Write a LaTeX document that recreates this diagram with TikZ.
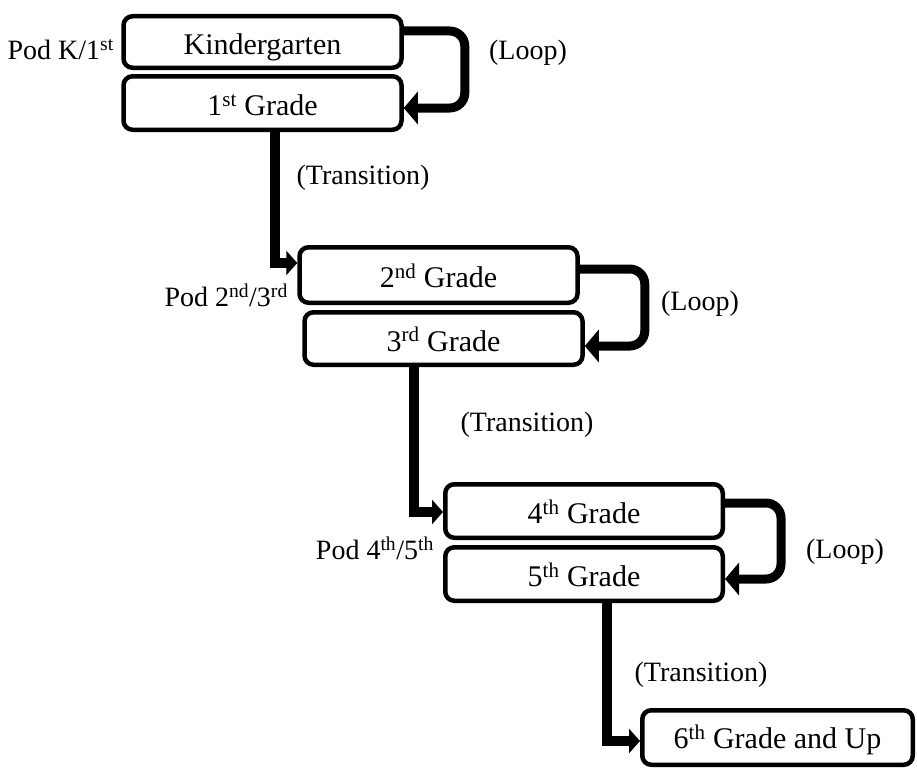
\documentclass[tikz,border=0pt]{standalone}
\usepackage{fontspec}
\setmainfont{Liberation Serif}
\usetikzlibrary{arrows.meta}
\begin{document}
\begin{tikzpicture}[x=1pt,y=-1pt,
  gradebox/.style={draw, line width=4.5pt, rounded corners=9pt, fill=white,
    minimum width=278pt, minimum height=53pt, inner sep=0pt,
    text height=25pt, text depth=0pt,
    font=\fontsize{30}{34}\selectfont},
  lbl/.style={font=\fontsize{28}{32}\selectfont, inner sep=0pt},
  loopline/.style={line width=9pt, rounded corners=15pt,
    -{Triangle[length=14pt,width=32pt]}},
  transline/.style={line width=10.5pt,
    -{Triangle[length=11pt,width=24pt]}}]
\useasboundingbox (0,0) rectangle (917,768);

% boxes
\node[gradebox, minimum height=51.5pt] (K) at (262.5,42) {Kindergarten};
\node[gradebox, minimum height=53.5pt] (G1) at (262.5,103) {1\textsuperscript{st} Grade};
\node[gradebox, minimum height=55.5pt] (G2) at (438.5,275) {2\textsuperscript{nd} Grade};
\node[gradebox, minimum height=52.5pt] (G3) at (443.5,338.5) {3\textsuperscript{rd} Grade};
\node[gradebox, minimum width=277.5pt, minimum height=53.5pt] (G4) at (584,511) {4\textsuperscript{th} Grade};
\node[gradebox, minimum width=277.5pt, minimum height=53.5pt] (G5) at (584,574) {5\textsuperscript{th} Grade};
\node[gradebox, minimum width=270.5pt, minimum height=54.5pt, text height=22pt] (G6) at (777.5,737.5) {6\textsuperscript{th} Grade and Up};

% labels
\node[lbl, anchor=east] (podA) at (114,50) {Pod K/1\textsuperscript{st}};
\node[lbl, anchor=east] (podB) at (288,295) {Pod 2\textsuperscript{nd}/3\textsuperscript{rd}};
\node[lbl, anchor=east] (podC) at (434,548) {Pod 4\textsuperscript{th}/5\textsuperscript{th}};
\node[lbl] (loopA) at (528,53) {(Loop)};
\node[lbl] (loopB) at (700,304) {(Loop)};
\node[lbl] (loopC) at (845,552) {(Loop)};
\node[lbl] (transA) at (363,178) {(Transition)};
\node[lbl] (transB) at (527,425) {(Transition)};
\node[lbl] (transC) at (701,675) {(Transition)};

% loops
\draw[loopline] ([yshift=11pt]K.east) -- ++(61,0) |- ([yshift=-5pt]G1.east);
\draw[loopline] ([yshift=6pt]G2.east) -- ++(65,0) |- ([yshift=-7.5pt]G3.east);
\draw[loopline] ([yshift=8pt]G4.east) -- ++(56,0) |- ([yshift=-5pt]G5.east);

% transitions
\draw[transline] ([xshift=12.5pt]G1.south) |- ([yshift=12pt]G2.west);
\draw[transline] ([xshift=-29.5pt]G3.south) |- ([yshift=-1pt]G4.west);
\draw[transline] ([xshift=23pt]G5.south) |- ([yshift=-3.5pt]G6.west);
\end{tikzpicture}
\end{document}
